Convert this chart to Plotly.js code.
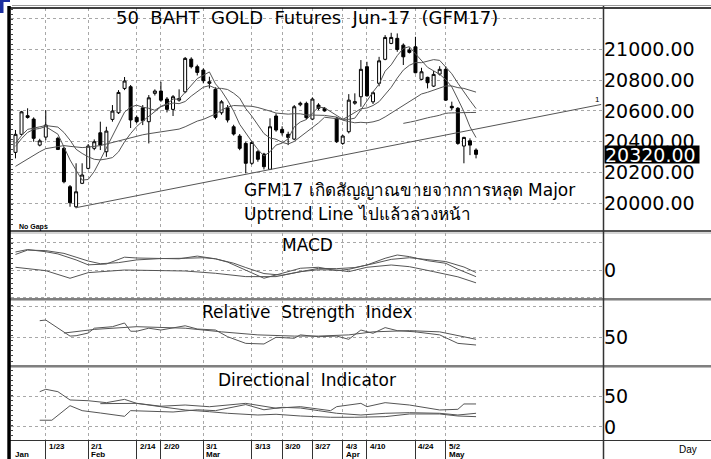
<!DOCTYPE html>
<html><head><meta charset="utf-8">
<script src="https://cdn.plot.ly/plotly-3.0.1.min.js"></script>
<style>html,body{margin:0;padding:0;background:#fff}#chart{width:711px;height:459px}</style>
</head><body><div id="chart"></div>
<script>
// ---------- DATA ----------
const dates = ['1/16','1/17','1/18','1/19','1/20','1/23','1/24','1/25','1/26','1/27','1/30','1/31',
 '2/1','2/2','2/3','2/6','2/7','2/8','2/9','2/10','2/14','2/15','2/16','2/17','2/20','2/21','2/22','2/23','2/24','2/27','2/28',
 '3/1','3/2','3/3','3/6','3/7','3/8','3/9','3/10','3/13','3/14','3/15','3/16','3/17','3/20','3/21','3/22','3/23','3/24','3/27','3/28','3/29','3/30','3/31',
 '4/3','4/4','4/5','4/7','4/10','4/11','4/12','4/17','4/18','4/19','4/20','4/21','4/24','4/25','4/26','4/27','4/28',
 '5/2','5/3','5/4','5/5','5/8','5/9'];
const open  = [20331,20448,20569,20547,20378,20430,null,20422,20357,20108,19978,20130,20227,20357,20458,20335,20545,20588,20746,20757,
 20558,20620,20530,20714,20729,20677,20610,20670,20724,20936,20887,20865,20779,20740,20588,20620,20497,20437,20389,20260,
 20335,20320,20221,20567,20480,20448,20417,20640,20649,20547,20638,20617,null,20552,20389,20465,20650,20692,20887,20659,
 20779,20935,21038,21071,21027,20995,21016,20805,20818,20761,20839,20870,20630,20617,20372,20406,20346];
const high  = [20476,20600,20617,20558,20419,20605,null,20432,20367,20119,20260,20260,20385,20415,20530,20497,20638,20735,20820,20768,
 20570,20638,20703,20740,20789,20690,20703,20740,20950,20948,20900,20876,20822,20753,20670,20638,20510,20450,20400,20405,
 20345,20328,20552,20584,20500,20465,20638,20660,20660,20688,20650,20625,null,20560,20445,20709,20714,20930,20919,20725,
 20951,21092,21107,21103,21038,21012,21081,20880,20822,20860,20890,20890,20660,20625,20432,20422,20357];
const low   = [20292,20440,20550,20400,20370,20410,null,20346,20130,19978,19968,20125,20220,20345,20346,20302,20530,20580,20735,20489,
 20520,20508,20389,20700,20659,20590,20567,20660,20715,20876,20830,20779,20746,20545,20575,20525,20440,20345,20195,20250,
 20270,20220,20216,20465,20440,20378,20410,20630,20545,20540,20605,20595,null,20392,20380,20454,20640,20627,20692,20645,
 20760,20929,21033,20984,20898,20973,20844,20800,20746,20755,20830,20665,20605,20380,20260,20313,20292];
const close = [20448,20594,20558,20422,20406,20508,null,20350,20140,20004,20075,20184,20372,20400,20378,20469,20599,20720,20794,20541,
 20530,20536,20685,20729,20670,20610,20692,20680,20941,20887,20850,20796,20789,20558,20659,20541,20450,20357,20260,20395,
 20286,20238,20497,20476,20458,20428,20627,20650,20556,20677,20617,20600,null,20400,20437,20670,20660,20870,20698,20718,
 20925,21077,21077,20999,20951,20980,20848,20854,20783,20837,20870,20670,20620,20389,20428,20378,20318];
const ma5  = [20370,20420,20460,20480,20486,20498,null,20449,20365,20282,20215,20151,20155,20207,20282,20361,20444,20513,20592,20625,
 20637,20624,20617,20604,20630,20646,20677,20676,20719,20762,20810,20831,20853,20776,20730,20669,20599,20513,20453,20401,
 20350,20307,20335,20378,20391,20419,20497,20528,20544,20588,20625,20620,null,20570,20546,20545,20553,20607,20667,20723,
 20774,20858,20899,20959,21006,21017,20971,20926,20883,20860,20838,20803,20756,20677,20595,20497,20427];
const ma10 = [20390,20440,20480,20490,20500,20505,null,20495,20460,20410,20351,20324,20302,20286,20282,20288,20297,20334,20400,20453,
 20499,20534,20565,20598,20627,20641,20651,20647,20661,20696,20728,20754,20764,20747,20746,20739,20715,20683,20615,20566,
 20509,20453,20424,20416,20396,20385,20402,20432,20461,20489,20522,20559,null,20549,20545,20566,20589,20614,20619,20635,
 20660,20706,20753,20813,20865,20896,20914,20913,20921,20933,20928,20887,20841,20780,20728,20668,20615];
const ma25 = [20240,20265,20290,20315,20335,20355,null,20370,20375,20370,20365,20362,20365,20370,20375,20385,20395,20405,20420,20430,
 20438,20445,20452,20458,20463,20469,20479,20482,20497,20516,20534,20545,20563,20580,20606,20624,20635,20634,20629,20630,
 20622,20608,20599,20586,20583,20579,20582,20581,20574,20574,20575,20571,null,20560,20540,20531,20523,20526,20523,20529,
 20540,20561,20586,20612,20640,20663,20685,20710,20721,20736,20752,20762,20762,20751,20746,20734,20722];
const maLongDates = ['4/20','4/24','4/26','4/28','5/2','5/4','5/9'];
const maLongVals  = [20519,20535,20555,20572,20584,20588,20590];
const trendDates  = ['1/30'];           // start of the uptrend line (low of 1/30)
const trendVals   = [19972, 20642];     // start price, price at the right edge of the panel

const macdDates = ['1/16','1/18','1/23','1/25','1/30','2/1','2/6','2/9','2/14','2/20','2/23','2/28','3/3','3/7','3/10','3/15','3/20','3/23','3/28','3/31','4/4','4/10','4/17','4/19','4/21','4/26','5/2','5/4','5/9'];
const macdVals  = [33.5,38,34,30,19,10,11.5,24,22.5,21,21,26,21,15,0.5,-14.6,-5.5,3.7,5.5,-0.7,1.8,9.7,22,28,25,17.6,12.8,2,-11.7];
const sigDates  = ['1/16','1/18','1/23','1/26','1/30','2/1','2/3','2/8','2/14','2/20','2/24','3/1','3/3','3/8','3/10','3/15','3/20','3/22','3/24','3/28','3/31','4/5','4/11','4/18','4/21','4/26','5/2','5/5','5/9'];
const sigVals   = [29,37,36,31,24,17,12,14,19,21.5,22,23,21,13,5,-6,-9,-5,0,3.5,3,5,12,20,23,20,16,6,-4];
const osc3Dates = ['1/16','1/23','1/27','2/1','2/9','2/16','2/24','3/3','3/10','3/17','3/23','3/28','3/31','4/4','4/10','4/18','4/21','4/27','5/4','5/9'];
const osc3Vals  = [5.5,-0.7,-14.6,-4.3,0.5,-0.7,-1.3,-5.5,-11.6,-11.6,-2.5,1,0.5,-2.5,5.5,9.7,6.6,-2.5,-12,-23];

const rsiDates = ['1/20','1/23','1/27','1/30','2/1','2/2','2/7','2/9','2/10','2/14','2/16','2/20','2/24','2/28','3/3','3/7','3/10','3/15','3/17','3/22','3/23','3/28','3/31','4/4','4/7','4/11','4/17','4/19','4/24','4/28','5/4','5/9'];
const rsiVals  = [77.4,78.5,52,52.6,57,65,67.5,73.6,60,60,65,62,69,63.7,62,51,40,39,50,48.4,54,51,52,46.7,62,56.6,66,61,59,54,40,37.3];
const rsi2Dates = ['1/26','2/2','2/14','2/24','3/6','3/14','3/22','3/28','4/4','4/11','4/21','4/28','5/9'];
const rsi2Vals  = [57,63,67.5,65,59,54,52,52,54,59,61,59,46.7];

const diADates = ['1/20','1/23','1/25','1/27','2/1','2/6','2/9','2/14','2/20','2/24','3/2','3/7','3/14','3/17','3/23','3/30','4/5','4/17','4/21','4/28','5/4','5/9'];
const diAVals  = [57.5,61.4,57.5,44,42.8,39.6,45,38.5,33,27.7,24.9,22.3,19.5,20.7,17.9,15.8,15.8,16.8,21.2,21.2,17.9,16.8];
const diBDates = ['1/20','1/24','1/27','1/31','2/3','2/9','2/10','2/16','2/22','2/28','3/3','3/10','3/15','3/20','3/23','3/28','3/31','4/7','4/17','4/21','4/28','5/4','5/9'];
const diBVals  = [11,11,34.7,26.6,22.8,17.4,26.6,25.6,24.4,28,26.6,36.5,28,32,30.9,26.6,22.3,19.5,22.3,23.3,22.3,19.5,22.3];
const diCDates = ['2/3','2/14','2/20','2/24','3/2','3/10','3/17','3/23','3/30','3/31','4/7','4/10','4/17','4/21','4/28','5/4','5/5','5/9'];
const diCVals  = [38,38.5,33.8,35.8,33,38.5,30.6,33.1,26.6,33.1,38.5,33.1,39.6,35.8,27.7,28.8,37.5,37.5];

const tickDates = ['1/23','2/1','2/14','2/20','3/1','3/13','3/20','3/27','4/3','4/10','4/24','5/2'];
const monthLabels = [['1/16','Jan'],['2/1','Feb'],['3/1','Mar'],['4/3','Apr'],['5/2','May']];
const priceTicks = [20000,20200,20400,20600,20800,21000,21200];
const lastPrice = 20320;

// ---------- helpers ----------
const W = 711, H = 459;
const px = v => v / W, py = v => 1 - v / H;
const ix = d => dates.indexOf(d);
const idxAll = dates.map((d, i) => i);
const GRID = '#a8a8a8', LINE = '#555555';
const F = 'DejaVu Sans, Verdana, sans-serif';

const traces = [];
traces.push({type:'candlestick', x: idxAll, open, high, low, close, xaxis:'x', yaxis:'y',
  increasing:{line:{color:'#000', width:1}, fillcolor:'#fff'},
  decreasing:{line:{color:'#000', width:1}, fillcolor:'#000'},
  whiskerwidth:0, hoverinfo:'skip', showlegend:false});
[ma5, ma10, ma25].forEach(m => traces.push({type:'scatter', mode:'lines', x: idxAll, y: m, connectgaps:true,
  line:{color:LINE, width:1}, xaxis:'x', yaxis:'y', hoverinfo:'skip', showlegend:false}));
traces.push({type:'scatter', mode:'lines', x: maLongDates.map(ix), y: maLongVals, line:{color:LINE, width:1, shape:'spline'},
  xaxis:'x', yaxis:'y', hoverinfo:'skip', showlegend:false});
const xRange = [-0.74, 96.95];
traces.push({type:'scatter', mode:'lines', x:[ix(trendDates[0]), xRange[1]-0.3], y: trendVals,
  line:{color:LINE, width:1}, xaxis:'x', yaxis:'y', hoverinfo:'skip', showlegend:false});

function addLine(d, v, xa, ya){
  traces.push({type:'scatter', mode:'lines', x:d.map(ix), y:v, line:{color:LINE, width:1},
    xaxis:xa, yaxis:ya, hoverinfo:'skip', showlegend:false});
}
addLine(macdDates, macdVals, 'x2', 'y2');
addLine(sigDates, sigVals, 'x2', 'y2');
addLine(osc3Dates, osc3Vals, 'x2', 'y2');
addLine(rsiDates, rsiVals, 'x3', 'y3');
addLine(rsi2Dates, rsi2Vals, 'x3', 'y3');
addLine(diADates, diAVals, 'x4', 'y4');
addLine(diBDates, diBVals, 'x4', 'y4');
addLine(diCDates, diCVals, 'x4', 'y4');

const tickIdx = tickDates.map(ix);
const xBase = {range:xRange, domain:[px(11), px(603)], tickvals:tickIdx, showticklabels:false,
  showgrid:true, gridcolor:GRID, griddash:'dot', gridwidth:1, zeroline:false, ticks:'', fixedrange:true};
const yBase = {side:'right', showgrid:true, gridcolor:GRID, griddash:'dot', gridwidth:1, zeroline:false,
  ticks:'', tickfont:{family:F, size:19, color:'#000'}, fixedrange:true, showline:false};
// small inside ticks along the left border of each panel
const leftTicks = (over, range, dt) => ({overlaying:over, side:'left', anchor:'x', range, dtick:dt, tick0:range[0],
  ticks:'inside', ticklen:2, tickwidth:1, tickcolor:'#444', showticklabels:false, showgrid:false, zeroline:false,
  showline:false, fixedrange:true});

const rP = [19827, 21268], rM = [-52.6, 68.3], rR = [2.7, 111.5], rD = [-21.2, 97.7];
const layout = {
  width:W, height:H, margin:{l:0, r:0, t:0, b:0}, paper_bgcolor:'#fff', plot_bgcolor:'#fff',
  showlegend:false, boxgap:0.3,
  xaxis:  Object.assign({}, xBase, {anchor:'y', rangeslider:{visible:false}}),
  xaxis2: Object.assign({}, xBase, {anchor:'y2'}),
  xaxis3: Object.assign({}, xBase, {anchor:'y3'}),
  xaxis4: Object.assign({}, xBase, {anchor:'y4', ticks:'outside', ticklen:18, tickcolor:'#333', tickwidth:1}),
  yaxis:  Object.assign({}, yBase, {domain:[py(230), py(8)], range:rP, anchor:'x',
           tickvals:priceTicks, ticktext:priceTicks.map(v => v < 21200 ? v.toFixed(2) : '')}),
  yaxis2: Object.assign({}, yBase, {domain:[py(299), py(233)], range:rM, anchor:'x2',
           tickvals:[-50, 0, 50], ticktext:['', '0', '']}),
  yaxis3: Object.assign({}, yBase, {domain:[py(366), py(300)], range:rR, anchor:'x3',
           tickvals:[50, 100], ticktext:['50', '']}),
  yaxis4: Object.assign({}, yBase, {domain:[py(440), py(367)], range:rD, anchor:'x4',
           tickvals:[0, 50], ticktext:['0', '50']}),
  yaxis5: Object.assign(leftTicks('y', rP, 32.5), {anchor:'x'}),
  yaxis6: Object.assign(leftTicks('y2', rM, 9.2), {anchor:'x2'}),
  yaxis7: Object.assign(leftTicks('y3', rR, 8.25), {anchor:'x3'}),
  yaxis8: Object.assign(leftTicks('y4', rD, 8.1), {anchor:'x4'}),
  shapes: [], annotations: []
};
// dummy invisible traces so the tick-only axes are drawn
[['x','y5',rP],['x2','y6',rM],['x3','y7',rR],['x4','y8',rD]].forEach(([xa, ya, r]) =>
  traces.push({type:'scatter', mode:'markers', x:[xRange[0]], y:[r[0]], xaxis:xa, yaxis:ya,
    marker:{opacity:0, size:1}, hoverinfo:'skip', showlegend:false}));

// frame
const S = layout.shapes;
const hline = (y, c, w, x0=8) => S.push({type:'line', xref:'paper', yref:'paper', x0:px(x0), x1:1, y0:py(y), y1:py(y), line:{color:c, width:w}});
hline(5.5, '#9a9a9a', 1, 12); hline(8, '#000', 1.5);
hline(231, '#555', 2); hline(233, '#aaa', 1);
hline(299, '#555', 1.5); hline(300.5, '#bbb', 1);
hline(366, '#555', 1.5); hline(367.5, '#bbb', 1);
hline(440.5, '#333', 1.2);
S.push({type:'rect', xref:'paper', yref:'paper', x0:px(7.3), x1:px(10.8), y0:0, y1:py(6), fillcolor:'#000', line:{width:0}});
S.push({type:'line', xref:'paper', yref:'paper', x0:px(603.5), x1:px(603.5), y0:0, y1:py(6), line:{color:'#333', width:1.5}});
S.push({type:'rect', xref:'paper', yref:'paper', x0:0, x1:px(3.5), y0:py(13), y1:1, fillcolor:'#1c2fa0', line:{width:0}});
S.push({type:'rect', xref:'paper', yref:'paper', x0:0, x1:px(10), y0:py(2), y1:1, fillcolor:'#1c2fa0', line:{width:0}});

// texts
const A = layout.annotations;
const txt = (t, x, y, size, opt={}) => A.push(Object.assign({text:t, xref:'paper', yref:'paper', x:px(x), y:py(y),
  showarrow:false, font:{family:F, size, color:'#000'}, xanchor:'center', yanchor:'middle'}, opt));
txt('50  BAHT  GOLD  Futures  Jun-17  (GFM17)', 307, 18, 18);
txt('MACD', 307, 245, 17);
txt('Relative  Strength  Index', 307, 312, 17);
txt('Directional  Indicator', 307, 380, 17);
txt('GFM17 เกิดสัญญาณขายจากการหลุด Major', 242, 191, 17, {xanchor:'left'});
txt('Uptrend Line ไปแล้วล่วงหน้า', 242, 214, 17, {xanchor:'left'});
txt('<b>No Gaps</b>', 17, 227.5, 7, {xanchor:'left', font:{family:'Liberation Sans, Arial', size:7, color:'#000'}});
txt('Day', 688, 449, 10, {font:{family:'Liberation Sans, Arial', size:10, color:'#000'}});
txt('1', 597, 99, 8, {font:{family:'Liberation Sans, Arial', size:8, color:'#000'}});
A.push({text:lastPrice.toFixed(2), xref:'paper', yref:'y', x:px(603.5), y:lastPrice, xanchor:'left', yanchor:'middle',
  width:94, height:17, align:'left', showarrow:false, bgcolor:'#000', borderpad:0,
  font:{family:F, size:19, color:'#fff'}});
const small = {family:'Liberation Sans Narrow, Liberation Sans, Arial', size:8, color:'#000'};
tickDates.forEach(d => A.push({text:'<b>'+d+'</b>', xref:'x4', yref:'paper', x:ix(d), y:py(446.5), xanchor:'left',
  yanchor:'middle', xshift:1, showarrow:false, font:small}));
monthLabels.forEach(([d, m]) => A.push({text:'<b>'+m+'</b>', xref:'x4', yref:'paper', x:ix(d), y:py(454.5), xanchor:'left',
  yanchor:'middle', xshift:(d === '1/16' ? -2 : 1), showarrow:false, font:small}));

Plotly.newPlot('chart', traces, layout, {staticPlot:true, displayModeBar:false});
</script></body></html>
